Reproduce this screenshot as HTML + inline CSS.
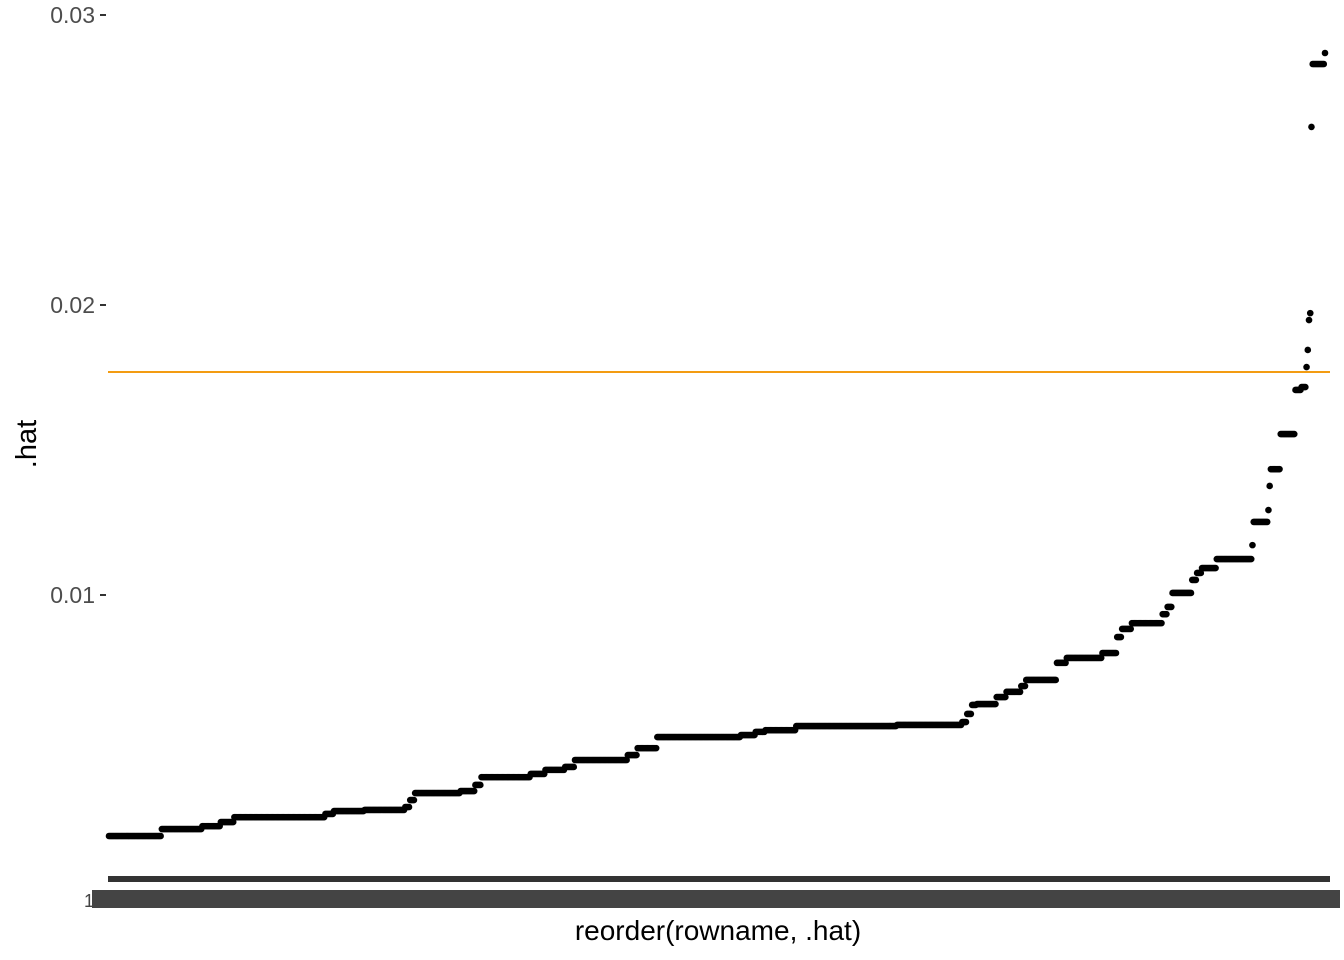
<!DOCTYPE html>
<html><head><meta charset="utf-8"><style>
html,body{margin:0;padding:0;background:#fff;}
svg{display:block;font-family:"Liberation Sans",sans-serif;}
</style></head><body>
<svg id="chart" width="1344" height="960" viewBox="0 0 1344 960" xmlns="http://www.w3.org/2000/svg">
<g id="yaxis"></g>
<g id="points"></g>
<rect x="108" y="876" width="1222" height="6" fill="#333"/>
<rect x="92" y="890" width="1248" height="18" fill="#444"/>
<text x="84" y="907" font-size="18" fill="#444">1</text>
<text x="718" y="940" font-size="28" text-anchor="middle" fill="#000">reorder(rowname, .hat)</text>
<text x="0" y="0" font-size="29" text-anchor="middle" fill="#000" transform="translate(36,444) rotate(-90)">.hat</text>
</svg>
<script>
const stepCounts=[43,33,15,11,74,7,25,33,4,4,37,12,5,40,12,16,8,43,8,16,68,12,8,25,82,53,4,4,4,16,8,12,4,25,8,29,12,4,8,25,4,4,16,4,4,12,29,1,12,1,1,8,12,5,4,1,1,1,1,1,10,1];
const stepValues=[0.00169,0.00193,0.00203,0.00217,0.00234,0.00245,0.00255,0.00259,0.00269,0.00293,0.00317,0.00324,0.00345,0.00372,0.00383,0.00397,0.00407,0.00431,0.00448,0.00472,0.00510,0.00517,0.00528,0.00534,0.00548,0.00552,0.00562,0.00590,0.00621,0.00624,0.00648,0.00666,0.00686,0.00707,0.00766,0.00783,0.00800,0.00855,0.00883,0.00903,0.00934,0.00959,0.01007,0.01052,0.01076,0.01093,0.01124,0.01172,0.01252,0.01293,0.01376,0.01434,0.01555,0.01707,0.01717,0.01786,0.01845,0.01948,0.01972,0.02614,0.02831,0.02869];
const yTicks=[0.01,0.02,0.03];
const yTickLabels=["0.01","0.02","0.03"];
const threshold=0.01769;

const NS="http://www.w3.org/2000/svg";
const values=[];
stepCounts.forEach((c,k)=>{for(let j=0;j<c;j++)values.push(stepValues[k]);});
const N=values.length;
const yScale=v=>595-(v-0.01)*29000;
const xScale=i=>109+i*(1216/(N-1));
const yaxis=document.getElementById('yaxis');
yTicks.forEach((t,k)=>{
  const y=yScale(t);
  const ln=document.createElementNS(NS,'line');
  
  
  ln.setAttribute('x1',100);ln.setAttribute('x2',106);ln.setAttribute('y1',y);ln.setAttribute('y2',y);
  ln.setAttribute('stroke','#333');ln.setAttribute('stroke-width',2);
  yaxis.appendChild(ln);
  const tx=document.createElementNS(NS,'text');
  
  
  tx.setAttribute('x',95);tx.setAttribute('y',y+8);tx.setAttribute('text-anchor','end');
  tx.setAttribute('font-size','23');tx.setAttribute('fill','#4d4d4d');
  tx.textContent=yTickLabels[k];
  yaxis.appendChild(tx);
});
const pts=document.getElementById('points');
values.forEach((v,i)=>{
  const c=document.createElementNS(NS,'circle');
  
  
  c.setAttribute('cx',xScale(i));c.setAttribute('cy',yScale(v));c.setAttribute('r',3.3);
  pts.appendChild(c);
});
const hl=document.createElementNS(NS,'line');


hl.setAttribute('x1',108);hl.setAttribute('x2',1330);
hl.setAttribute('y1',yScale(threshold));hl.setAttribute('y2',yScale(threshold));
hl.setAttribute('stroke','#f39c12');hl.setAttribute('stroke-width',2);
document.getElementById('chart').appendChild(hl);
</script>
</body></html>
